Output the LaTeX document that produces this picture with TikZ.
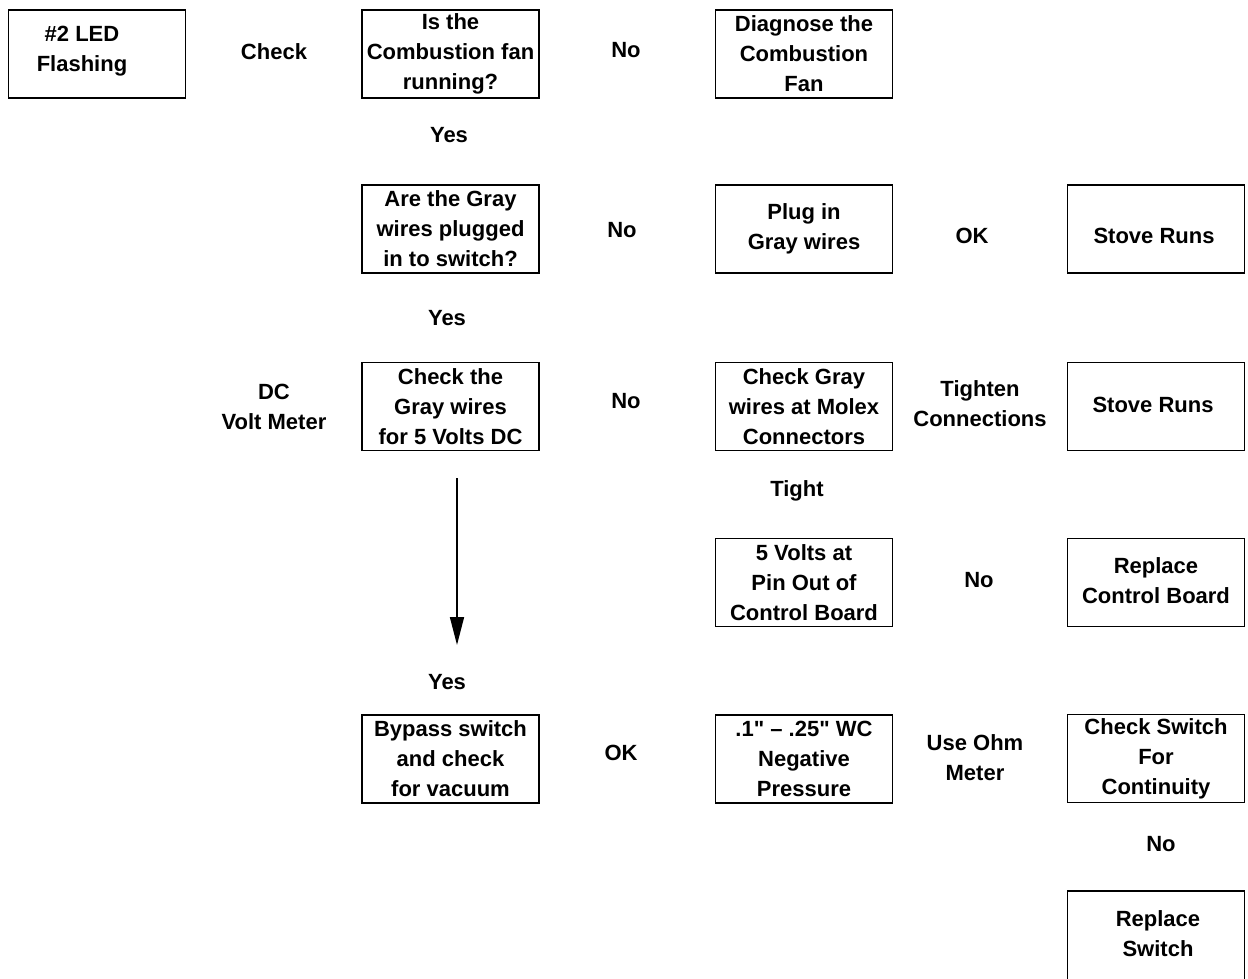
\documentclass[tikz,border=0pt]{standalone}
\usepackage{fontspec}
\setmainfont{Liberation Sans}
\newfontfamily\quotefont{Liberation Sans}
\usetikzlibrary{arrows.meta}
\tikzset{
  box/.style={draw, line width=1.8pt, minimum width=177pt, minimum height=88pt, inner sep=0pt, align=center, font=\bfseries\fontsize{22}{30}\selectfont},
  txt/.style={inner sep=0pt, align=center, font=\bfseries\fontsize{22}{30}\selectfont},
  lbl/.style={inner sep=0pt, align=center, font=\bfseries\fontsize{22}{30}\selectfont},
  flow/.style={line width=1.6pt, -{Triangle[width=14pt,length=28pt]}}
}
\newcommand{\sq}{{\quotefont\bfseries "}}
\begin{document}
\begin{tikzpicture}[x=1pt,y=-1pt]
\useasboundingbox (0,0) rectangle (1248,978);
% boxes
\node[box] (led) at (97,54) {};
\node[txt] (ledt) at (82,51) {\#2 LED\\Flashing};
\node[box] (q1) at (450.5,54) {Is the\\Combustion fan\\running?};
\node[box] (diag) at (804,54) {Diagnose the\\Combustion\\Fan};
\node[box] (q2) at (450.5,229) {Are the Gray\\wires plugged\\in to switch?};
\node[box] (plug) at (804,229) {Plug in\\Gray wires};
\node[box] (stove1) at (1156,229) {};
\node[txt] (stove1t) at (1154,236) {Stove Runs};
\node[box] (q3) at (450.5,406.5) {Check the\\Gray wires\\for 5 Volts DC};
\node[box] (molex) at (804,406.5) {Check Gray\\wires at Molex\\Connectors};
\node[box] (stove2) at (1156,406.5) {};
\node[txt] (stove2t) at (1153,405) {Stove Runs};
\node[box] (volts) at (804,582.5) {5 Volts at\\Pin Out of\\Control Board};
\node[box] (replcb) at (1156,582.5) {};
\node[txt] (replcbt) at (1156,581) {Replace\\Control Board};
\node[box] (bypass) at (450.5,759) {Bypass switch\\and check\\for vacuum};
\node[box] (wc) at (804,759) {.1\sq{} -- .25\sq{} WC\\Negative\\Pressure};
\node[box] (chksw) at (1156,758.5) {Check Switch\\For\\Continuity};
\node[box, minimum height=89pt] (replsw) at (1156,935.5) {};
\node[txt] (replswt) at (1158,934) {Replace\\Switch};
% labels
\node[lbl] (l1) at (274,52) {Check};
\node[lbl] (l2) at (626,50) {No};
\node[lbl] (l3) at (449,135) {Yes};
\node[lbl] (l4) at (622,230) {No};
\node[lbl] (l5) at (972,236) {OK};
\node[lbl] (l6) at (447,318) {Yes};
\node[lbl] (l7) at (274,407) {DC\\Volt Meter};
\node[lbl] (l8) at (626,401) {No};
\node[lbl] (l9) at (980,404) {Tighten\\Connections};
\node[lbl] (l10) at (797,491) {Tight};
\node[lbl] (l11) at (979,580) {No};
\node[lbl] (l12) at (447,682) {Yes};
\node[lbl] (l13) at (621,753) {OK};
\node[lbl] (l14) at (975,758) {Use Ohm\\Meter};
\node[lbl] (l15) at (1161,844) {No};
% arrow
\coordinate (a1) at (457,478);
\coordinate (a2) at (457,645);
\draw[flow] (a1) -- (a2);
\end{tikzpicture}
\end{document}
